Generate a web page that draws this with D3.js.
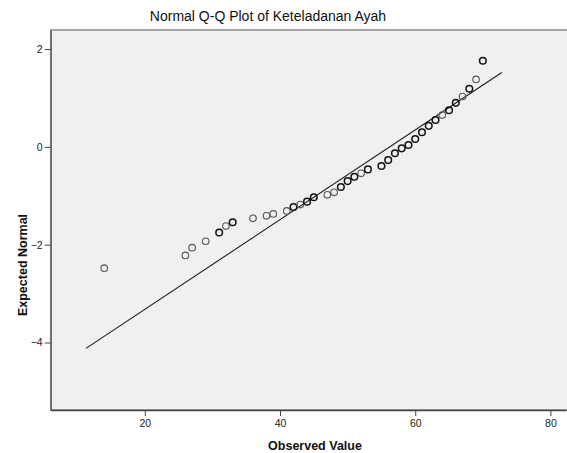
<!DOCTYPE html>
<html>
<head>
<meta charset="utf-8">
<script src="https://cdn.jsdelivr.net/npm/d3@7"></script>
<style>
  html, body { margin: 0; padding: 0; background: #ffffff; }
  svg { display: block; font-family: "Liberation Sans", Arial, sans-serif; }
</style>
</head>
<body>
<svg id="chart" width="567" height="453"></svg>
<script>
const title = "Normal Q-Q Plot of Keteladanan Ayah";
const xLabel = "Observed Value";
const yLabel = "Expected Normal";

const observed = [14,26,27,29,31,32,33,36,38,39,41,42,43,44,45,47,48,49,50,51,52,53,55,56,57,58,59,60,61,62,63,64,65,66,67,68,69,70];
const expected = [-2.48,-2.22,-2.06,-1.93,-1.75,-1.62,-1.54,-1.46,-1.41,-1.37,-1.31,-1.23,-1.18,-1.12,-1.03,-0.98,-0.93,-0.82,-0.70,-0.61,-0.54,-0.46,-0.39,-0.27,-0.13,-0.03,0.04,0.16,0.30,0.43,0.55,0.65,0.75,0.90,1.03,1.19,1.38,1.76];
const repeated = [0,0,0,0,1,0,1,0,0,0,0,1,0,1,1,0,0,1,1,1,0,1,1,1,1,1,1,1,1,1,1,0,1,1,0,1,0,1];

const refLineX = [11.3, 72.8];
const refLineY = [-4.12, 1.52];

const xTicks = [20, 40, 60, 80];
const yTicks = [2, 0, -2, -4];
const xDomain = [6.08, 82.3];
const yDomain = [-5.38, 2.39];

const svg = d3.select("#chart");
const plot = { left: 50.7, top: 30, right: 566, bottom: 410 };

const x = d3.scaleLinear().domain(xDomain).range([plot.left, plot.right]);
const y = d3.scaleLinear().domain(yDomain).range([plot.bottom, plot.top]);

// plot background and frame (right edge runs off the picture)
svg.append("rect")
  .attr("x", plot.left).attr("y", plot.top)
  .attr("width", plot.right - plot.left + 10).attr("height", plot.bottom - plot.top)
  .attr("fill", "#f0f0f0")
  .attr("stroke", "#8a8a8a").attr("stroke-width", 1.5);

// reference line
const line = d3.line().x(d => x(d[0])).y(d => y(d[1]));
svg.append("path")
  .datum(refLineX.map((v, i) => [v, refLineY[i]]))
  .attr("d", line)
  .attr("fill", "none")
  .attr("stroke", "#1a1a1a")
  .attr("stroke-width", 1.1);

// points
svg.append("g").selectAll("circle")
  .data(observed.map((v, i) => ({ x: v, y: expected[i], r: repeated[i] })))
  .join("circle")
  .attr("cx", d => x(d.x))
  .attr("cy", d => y(d.y))
  .attr("r", 3.3)
  .attr("fill", "none")
  .attr("stroke", d => d.r ? "#111" : "#555")
  .attr("stroke-width", d => d.r ? 1.5 : 1.1);

// axes
const xAxis = d3.axisBottom(x).tickValues(xTicks).tickSize(6).tickSizeOuter(0).tickPadding(4);
const gx = svg.append("g").attr("transform", `translate(0,${plot.bottom})`).call(xAxis);
gx.select(".domain").attr("stroke", "#444").attr("stroke-width", 1.5);
gx.selectAll(".tick line").attr("stroke", "#444");
gx.selectAll("text").attr("font-size", 10.5).attr("fill", "#222")
  .attr("font-family", "'Liberation Sans', Arial, sans-serif");

const yAxis = d3.axisLeft(y).tickValues(yTicks).tickSize(6).tickSizeOuter(0).tickPadding(2);
const gy = svg.append("g").attr("transform", `translate(${plot.left},0)`).call(yAxis);
gy.select(".domain").attr("stroke", "#666").attr("stroke-width", 1.5);
gy.selectAll(".tick line").attr("stroke", "#444");
gy.selectAll("text").attr("font-size", 10.5).attr("fill", "#222")
  .attr("font-family", "'Liberation Sans', Arial, sans-serif");

// title
svg.append("text")
  .attr("x", 268).attr("y", 21)
  .attr("text-anchor", "middle")
  .attr("font-size", 14)
  .attr("fill", "#111")
  .text(title);

// axis labels
svg.append("text")
  .attr("x", 315).attr("y", 450)
  .attr("text-anchor", "middle")
  .attr("font-size", 12.5).attr("font-weight", "bold")
  .attr("fill", "#111")
  .text(xLabel);

svg.append("text")
  .attr("transform", "translate(27,265) rotate(-90)")
  .attr("text-anchor", "middle")
  .attr("font-size", 12.5).attr("font-weight", "bold")
  .attr("fill", "#111")
  .text(yLabel);
</script>
</body>
</html>
